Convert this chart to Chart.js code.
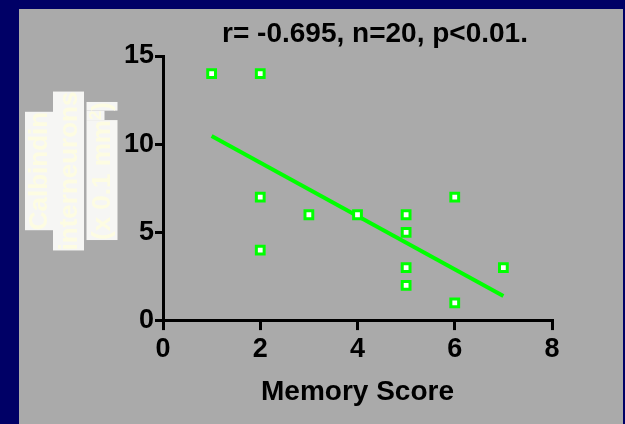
<!DOCTYPE html>
<html>
<head>
<meta charset="utf-8">
<script src="https://cdn.jsdelivr.net/npm/chart.js@4"></script>
<style>
  html, body { margin: 0; padding: 0; background: #000066; }
  canvas { display: block; }
</style>
</head>
<body>
<canvas id="chart" width="625" height="424"></canvas>
<script>
// Memory score vs. calbindin interneuron density
const memoryScore      = [1, 2, 2, 2, 3, 4, 5, 5, 5, 5, 6, 6, 7];
const calbindinDensity = [14, 14, 7, 4, 6, 6, 6, 5, 3, 2, 7, 1, 3];

// Least-squares fit line end points
const fitX = [1, 7];
const fitY = [10.47, 1.39];

const xTicks = [0, 2, 4, 6, 8];
const yTicks = [0, 5, 10, 15];

const chartTitle = 'r= -0.695, n=20, p<0.01.';
const xTitle = 'Memory Score';
// Y title: three rotated lines, the last one with a superscript
const yTitleLines = [
  [{ text: 'Calbindin' }],
  [{ text: 'interneurons' }],
  [{ text: '(x 0.1 mm' }, { text: '2', sup: true }, { text: ')' }]
];

const FONT = "'Liberation Sans', Arial, Helvetica, sans-serif";

const panelPlugin = {
  id: 'panel',
  beforeDraw(chart) {
    const ctx = chart.ctx;
    ctx.save();
    ctx.fillStyle = '#000066';
    ctx.fillRect(0, 0, chart.width, chart.height);
    ctx.fillStyle = '#aaaaaa';
    ctx.fillRect(19, 9, 604, 415);
    ctx.restore();
  },
  afterDraw(chart) {
    const ctx = chart.ctx;
    ctx.save();
    // heading
    ctx.fillStyle = '#000000';
    ctx.font = `bold 28px ${FONT}`;
    ctx.textAlign = 'center';
    ctx.textBaseline = 'alphabetic';
    ctx.fillText(chartTitle, 375, 41.5);

    // rotated y title, each line on its own pale box
    const cy = 171;
    const cols = [{ cx: 39, th: 28 }, { cx: 68.5, th: 31 }, { cx: 102, th: 31 }];
    yTitleLines.forEach((segs, i) => {
      const col = cols[i];
      const parts = segs.map(s => {
        const size = s.sup ? 17 : 26;
        ctx.font = `bold ${size}px ${FONT}`;
        return { text: s.text, sup: !!s.sup, size, w: ctx.measureText(s.text).width };
      });
      const total = parts.reduce((a, p) => a + p.w, 0);
      ctx.save();
      ctx.translate(col.cx, cy);
      ctx.rotate(-Math.PI / 2);
      let x = -total / 2;
      const top = -col.th / 2;
      parts.forEach(p => {
        const h = p.sup ? 18 : col.th;
        ctx.fillStyle = '#f6f6f4';
        ctx.fillRect(x, top, p.w, h);
        ctx.fillStyle = '#fdfce2';
        ctx.font = `bold ${p.size}px ${FONT}`;
        ctx.textAlign = 'left';
        ctx.textBaseline = 'middle';
        ctx.fillText(p.text, x, top + h / 2 + 1);
        x += p.w;
      });
      ctx.restore();
    });
    ctx.restore();
  }
};

const pointData = memoryScore.map((x, i) => ({ x, y: calbindinDensity[i] }));
const fitData = fitX.map((x, i) => ({ x, y: fitY[i] }));

const tickFont = { family: FONT, size: 27, weight: 'bold' };

new Chart(document.getElementById('chart'), {
  type: 'scatter',
  data: {
    datasets: [
      {
        label: 'Subjects',
        data: pointData,
        pointStyle: 'rect',
        pointRadius: 5.5,
        pointBorderWidth: 3,
        pointBorderColor: '#00ff00',
        pointBackgroundColor: '#ffffff',
        showLine: false,
        order: 1
      },
      {
        label: 'Fit',
        data: fitData,
        showLine: true,
        borderColor: '#00ff00',
        borderWidth: 4,
        pointRadius: 0,
        fill: false,
        order: 2
      }
    ]
  },
  options: {
    responsive: false,
    animation: false,
    devicePixelRatio: 1,
    events: [],
    layout: { padding: { left: 0, right: 73, top: 56, bottom: 0 } },
    plugins: {
      legend: { display: false },
      tooltip: { enabled: false },
      title: { display: false }
    },
    scales: {
      x: {
        type: 'linear',
        min: 0,
        max: 8,
        afterBuildTicks: s => { s.ticks = xTicks.map(v => ({ value: v })); },
        afterFit: s => { s.height = 103.4; },
        border: { display: true, color: '#000000', width: 3 },
        grid: {
          display: true, drawOnChartArea: false, drawTicks: true,
          tickLength: 9.5, tickWidth: 3, tickColor: '#000000',
          color: '#000000', lineWidth: 3
        },
        ticks: { color: '#000000', font: tickFont, padding: 3, maxRotation: 0 },
        title: {
          display: true, text: xTitle, color: '#000000',
          font: { family: FONT, size: 28, weight: 'bold' },
          padding: { top: 0, bottom: 15 }
        }
      },
      y: {
        type: 'linear',
        min: 0,
        max: 15,
        afterBuildTicks: s => { s.ticks = yTicks.map(v => ({ value: v })); },
        afterFit: s => { s.width = 163; },
        border: { display: true, color: '#000000', width: 3 },
        grid: {
          display: true, drawOnChartArea: false, drawTicks: true,
          tickLength: 8, tickWidth: 3, tickColor: '#000000',
          color: '#000000', lineWidth: 3
        },
        ticks: { color: '#000000', font: tickFont, padding: 1 }
      }
    }
  },
  plugins: [panelPlugin]
});
</script>
</body>
</html>
